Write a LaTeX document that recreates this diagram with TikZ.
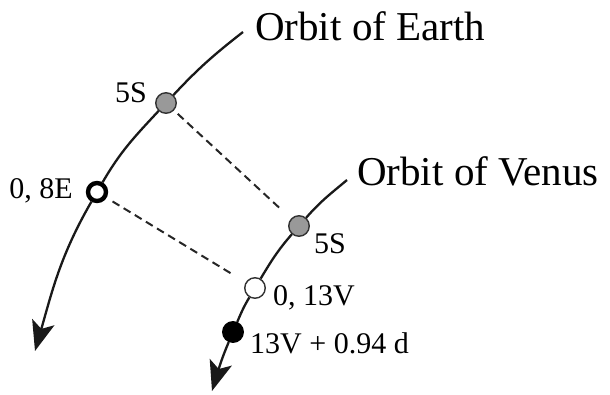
\documentclass[tikz,border=0pt]{standalone}
\usepackage{fontspec}
\setmainfont{Liberation Serif}
\usetikzlibrary{arrows.meta}
\begin{document}
\begin{tikzpicture}[x=1pt,y=1pt,
  orbitline/.style={line width=2.3pt, black!90},
  orbitarrow/.style={orbitline, -{Stealth[length=30pt,width=23pt,inset=7pt]}},
  dline/.style={line width=2pt, black!85, dash pattern=on 8pt off 5pt},
  planet/.style={circle, inner sep=0pt, minimum size=20.5pt, line width=1.4pt, draw=black!80},
  gray planet/.style={planet, fill=black!40},
  white planet/.style={planet, fill=white},
  black planet/.style={planet, fill=black, draw=black, minimum size=20.5pt},
  thick planet/.style={circle, inner sep=0pt, minimum size=18pt, line width=4.4pt, draw=black, fill=white},
  title/.style={inner sep=0pt, font=\fontsize{41}{46}\selectfont},
  lab/.style={inner sep=0pt, font=\fontsize{30}{34}\selectfont}
]
\useasboundingbox (0,0) rectangle (610,-394);

% points on the orbits
\node[gray planet]  (e5S) at (166,-103) {};
\node[thick planet] (e0)  at (97,-192) {};
\node[gray planet]  (v5S) at (299,-226) {};
\node[white planet] (v0)  at (255,-288) {};
\node[black planet] (vd)  at (233,-332) {};

\coordinate (eS) at (243,-32);
\coordinate (eE) at (35,-351);
\coordinate (vS) at (347,-180);
\coordinate (vE) at (212,-391);

% Earth orbit
\draw[orbitline] (eS) to[out=218,in=47] (e5S);
\draw[orbitline] (e5S) to[out=227,in=60] (e0);
\draw[orbitarrow] (e0) to[out=240,in=74] (eE);

% Venus orbit
\draw[orbitline] (vS) to[out=220,in=49] (v5S);
\draw[orbitline] (v5S) to[out=229,in=59] (v0);
\draw[orbitline] (v0) to[out=239,in=67] (vd);
\draw[orbitarrow] (vd) to[out=247,in=73] (vE);

% dashed connections
\draw[dline, shorten <=5pt, shorten >=14pt] (e5S) -- (v5S);
\draw[dline, shorten <=7pt, shorten >=14pt] (e0) -- (v0);

% labels
\node[title, anchor=base west] (tE) at (255,-40) {Orbit of Earth};
\node[title, anchor=base west] (tV) at (357,-185) {Orbit of Venus};
\node[lab, anchor=base east] (le5S) at (147,-102) {5S};
\node[lab, anchor=base east] (le0) at (73,-198) {0, 8E};
\node[lab, anchor=base west] (lv5S) at (314,-253) {5S};
\node[lab, anchor=base west] (lv0) at (273,-305) {0, 13V};
\node[lab, anchor=base west] (lvd) at (250,-353) {13V + 0.94 d};
\end{tikzpicture}
\end{document}
